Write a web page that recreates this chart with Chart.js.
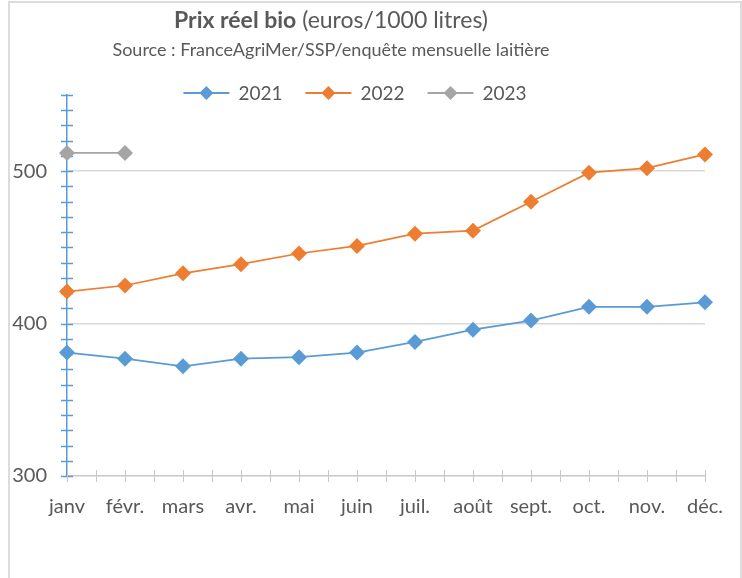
<!DOCTYPE html>
<html>
<head>
<meta charset="utf-8">
<script src="https://cdn.jsdelivr.net/npm/chart.js@4"></script>
<style>
  body { margin: 0; background: #fff; }
  #frame { position: absolute; left: 8px; top: 1px; width: 730px; height: 600px; border: 2px solid #dcdcdc; }
  #wrap { position: absolute; left: 0; top: 0; width: 742px; height: 578px; }
</style>
</head>
<body>
<div id="frame"></div>
<div id="wrap"><canvas id="myChart" width="742" height="578"></canvas></div>
<script>
const months = ['janv', 'févr.', 'mars', 'avr.', 'mai', 'juin', 'juil.', 'août', 'sept.', 'oct.', 'nov.', 'déc.'];
const prix2021 = [381, 377, 372, 377, 378, 381, 388, 396, 402, 411, 411, 414];
const prix2022 = [421, 425, 433, 439, 446, 451, 459, 461, 480, 499, 502, 511];
const prix2023 = [512, 512, null, null, null, null, null, null, null, null, null, null];
const yLabels = [300, 400, 500];

const blue = '#5B9BD5';
const orange = '#ED7D31';
const gray = '#A5A5A5';
const textColor = '#595959';
const fontName = 'Lato';

// draws a short line with a diamond in the middle, like the excel legend
function drawSymbol(ctx, x, y, color) {
    ctx.strokeStyle = color;
    ctx.lineWidth = 2;
    ctx.beginPath();
    ctx.moveTo(x, y);
    ctx.lineTo(x + 46, y);
    ctx.stroke();
    ctx.fillStyle = color;
    ctx.beginPath();
    ctx.moveTo(x + 23, y - 7);
    ctx.lineTo(x + 30, y);
    ctx.lineTo(x + 23, y + 7);
    ctx.lineTo(x + 16, y);
    ctx.closePath();
    ctx.fill();
}

const titlePlugin = {
    id: 'excelTitle',
    afterDraw(chart) {
        const ctx = chart.ctx;
        const boldPart = 'Prix réel bio';
        const normalPart = ' (euros/1000 litres)';
        ctx.save();
        ctx.fillStyle = textColor;
        ctx.textBaseline = 'middle';
        ctx.font = 'bold 23px ' + fontName;
        const w1 = ctx.measureText(boldPart).width;
        ctx.font = '23px ' + fontName;
        const w2 = ctx.measureText(normalPart).width;
        let x = 331 - (w1 + w2) / 2;
        ctx.textAlign = 'left';
        ctx.font = 'bold 23px ' + fontName;
        ctx.fillText(boldPart, x, 21);
        ctx.font = '23px ' + fontName;
        ctx.fillText(normalPart, x + w1, 21);
        ctx.font = '18px ' + fontName;
        ctx.textAlign = 'center';
        ctx.fillText('Source : FranceAgriMer/SSP/enquête mensuelle laitière', 331, 50);

        // legend
        const ds = chart.data.datasets;
        ctx.font = '19px ' + fontName;
        const widths = ds.map(d => 46 + 9 + ctx.measureText(d.label).width);
        const total = widths.reduce((a, b) => a + b, 0) + 23 * (ds.length - 1);
        let lx = 355 - total / 2;
        ds.forEach((d, i) => {
            drawSymbol(ctx, lx, 93, d.borderColor);
            ctx.fillStyle = textColor;
            ctx.textAlign = 'left';
            ctx.fillText(d.label, lx + 55, 94);
            lx += widths[i] + 23;
        });
        ctx.restore();
    }
};

// Excel style cross tick marks on both axes
const crossTicks = {
    id: 'crossTicks',
    beforeDatasetsDraw(chart) {
        const ctx = chart.ctx;
        const xs = chart.scales.x;
        const ys = chart.scales.y;
        const axisX = ys.right;
        const axisY = xs.top;
        ctx.save();
        ctx.lineWidth = 1.5;
        ctx.strokeStyle = blue;
        ys.ticks.forEach(t => {
            const py = Math.round(ys.getPixelForValue(t.value)) + 0.5;
            ctx.beginPath();
            ctx.moveTo(axisX - 6, py);
            ctx.lineTo(axisX + 6, py);
            ctx.stroke();
        });
        ctx.strokeStyle = '#c8c8c8';
        ctx.lineWidth = 1;
        for (let i = 0; i < months.length; i++) {
            const positions = [xs.getPixelForValue(i)];
            if (i < months.length - 1) {
                positions.push((xs.getPixelForValue(i) + xs.getPixelForValue(i + 1)) / 2);
            }
            positions.forEach(px => {
                px = Math.round(px) + 0.5;
                ctx.beginPath();
                ctx.moveTo(px, axisY - 6);
                ctx.lineTo(px, axisY + 6);
                ctx.stroke();
            });
        }
        ctx.restore();
    }
};

function makeDataset(label, data, color) {
    return {
        label: label,
        data: data,
        borderColor: color,
        backgroundColor: color,
        borderWidth: 1.75,
        pointStyle: 'rectRot',
        pointRadius: 8,
        pointHoverRadius: 8,
        pointBorderWidth: 0,
        tension: 0,
        spanGaps: false
    };
}

function drawChart() {
    const ctx = document.getElementById('myChart').getContext('2d');
    new Chart(ctx, {
        type: 'line',
        data: {
            labels: months,
            datasets: [
                makeDataset('2021', prix2021, blue),
                makeDataset('2022', prix2022, orange),
                makeDataset('2023', prix2023, gray)
            ]
        },
        options: {
            responsive: false,
            animation: false,
            layout: {
                padding: { top: 95, left: 10, right: 37, bottom: 40 }
            },
            plugins: {
                legend: { display: false },
                title: { display: false },
                tooltip: { enabled: false }
            },
            scales: {
                x: {
                    offset: false,
                    grid: { drawOnChartArea: false, drawTicks: false },
                    border: { color: '#c8c8c8', width: 1.5 },
                    ticks: {
                        color: textColor,
                        font: { family: fontName, size: 20 },
                        padding: 19,
                        autoSkip: false,
                        maxRotation: 0
                    }
                },
                y: {
                    min: 300,
                    max: 550,
                    afterFit(scale) { scale.width = 57; },
                    grid: {
                        drawTicks: false,
                        color: c => (c.tick && yLabels.includes(c.tick.value) && c.tick.value > 300) ? '#d9d9d9' : 'rgba(0,0,0,0)',
                        lineWidth: 1.5
                    },
                    border: { color: blue, width: 1.5 },
                    ticks: {
                        stepSize: 10,
                        autoSkip: false,
                        color: textColor,
                        font: { family: fontName, size: 20 },
                        padding: 20,
                        callback: v => yLabels.includes(v) ? String(v) : ''
                    }
                }
            }
        },
        plugins: [titlePlugin, crossTicks]
    });
}

document.addEventListener('DOMContentLoaded', drawChart);
</script>
</body>
</html>
